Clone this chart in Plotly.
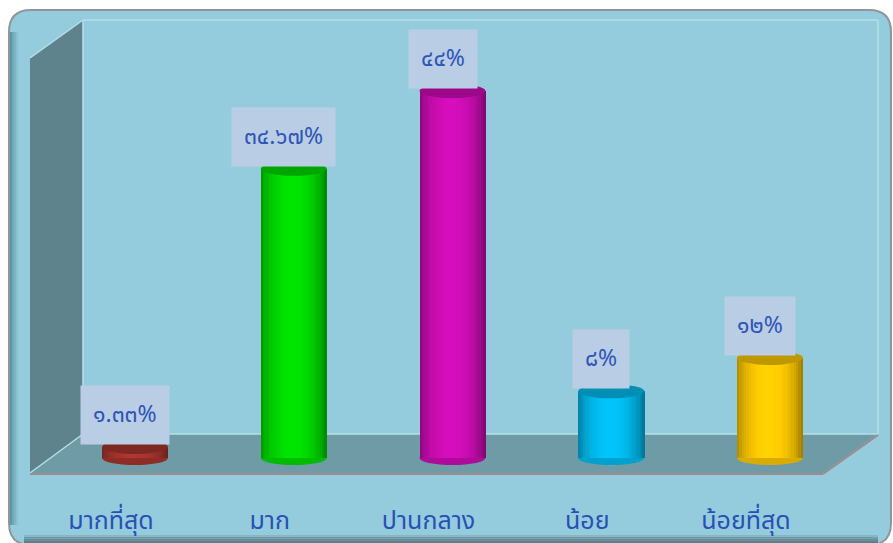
import numpy as np
import plotly.graph_objects as go

# ---------------- data ----------------
categories = ["มากที่สุด", "มาก", "ปานกลาง", "น้อย", "น้อยที่สุด"]
values = [1.33, 34.67, 44, 8, 12]
bar_colors = ["#A8362F", "#00DD00", "#CF0DB6", "#00BEF2", "#FFCB00"]

THAI_DIGITS = str.maketrans("0123456789", "๐๑๒๓๔๕๖๗๘๙")


def thai_pct(v):
    return f"{v:g}".translate(THAI_DIGITS) + "%"


labels = [thai_pct(v) for v in values]

# ---------------- geometry helpers ----------------
W, H = 893, 543
Y_MIN, Y_MAX = -4, 50
Y_ZERO_PX, Y_TOP_PX = 458.0, 41.0
PX_PER_UNIT = (Y_ZERO_PX - Y_TOP_PX) / Y_MAX
Y_BOTTOM_PX = Y_ZERO_PX - Y_MIN * PX_PER_UNIT
X_FIRST_PX, X_STEP_PX = 135.0, 158.75
LABEL_SHIFT_PX = 24
x_lo = -X_FIRST_PX / X_STEP_PX
x_hi = (W - X_FIRST_PX) / X_STEP_PX
s = LABEL_SHIFT_PX / X_STEP_PX
BAR_W = 66 / X_STEP_PX
ELL_H = 7 / PX_PER_UNIT


def px(x, y):
    return x / W, 1 - y / H


def poly(points):
    pts = [px(x, y) for x, y in points]
    return "M " + " L ".join(f"{a:.5f},{b:.5f}" for a, b in pts) + " Z"


def hex_rgb(h):
    h = h.lstrip("#")
    return np.array([int(h[i:i + 2], 16) for i in (0, 2, 4)], dtype=float)


def shade(h, f):
    c = np.clip(hex_rgb(h) * f, 0, 255).astype(int)
    return f"rgb({c[0]},{c[1]},{c[2]})"


fig = go.Figure()

# ---------------- cylinders as shaded strips ----------------
N_STRIPS = 28
xs = list(range(len(categories)))
for k in range(N_STRIPS):
    t = (k + 0.5) / N_STRIPS
    f = 0.64 + 0.40 * np.sin(np.pi * np.clip(t * 1.04, 0, 1)) ** 0.6
    fig.add_trace(go.Bar(
        x=xs, y=values,
        width=BAR_W / N_STRIPS * 1.15,
        offset=-BAR_W / 2 + k * BAR_W / N_STRIPS,
        marker=dict(color=[shade(c, f) for c in bar_colors], line=dict(width=0)),
        hoverinfo="skip", showlegend=False,
    ))

# invisible trace carrying the category axis
fig.add_trace(go.Scatter(x=xs, y=[0] * len(xs), xaxis="x2", mode="markers",
                         marker=dict(opacity=0), hoverinfo="skip", showlegend=False))

shapes = []
# frame
r = 22
x0, y0, x1, y1 = 9, 10, 891, 545
frame_path = (
    f"M {px(x0 + r, y0)[0]},{px(x0 + r, y0)[1]} "
    f"L {px(x1 - r, y0)[0]},{px(x1 - r, y0)[1]} "
    f"Q {px(x1, y0)[0]},{px(x1, y0)[1]} {px(x1, y0 + r)[0]},{px(x1, y0 + r)[1]} "
    f"L {px(x1, y1 - r)[0]},{px(x1, y1 - r)[1]} "
    f"Q {px(x1, y1)[0]},{px(x1, y1)[1]} {px(x1 - r, y1)[0]},{px(x1 - r, y1)[1]} "
    f"L {px(x0 + r, y1)[0]},{px(x0 + r, y1)[1]} "
    f"Q {px(x0, y1)[0]},{px(x0, y1)[1]} {px(x0, y1 - r)[0]},{px(x0, y1 - r)[1]} "
    f"L {px(x0, y0 + r)[0]},{px(x0, y0 + r)[1]} "
    f"Q {px(x0, y0)[0]},{px(x0, y0)[1]} {px(x0 + r, y0)[0]},{px(x0 + r, y0)[1]} Z"
)
shapes.append(dict(type="path", xref="paper", yref="paper", path=frame_path,
                   fillcolor="#94CCDD", line=dict(color="#8E9699", width=2), layer="below"))
# left frame shading
for i, col in enumerate(["#5F97A8", "#6FA8B8", "#7DB6C5", "#89C1D0"]):
    shapes.append(dict(type="path", xref="paper", yref="paper",
                       path=poly([(10 + 2 * i, 32), (12 + 2 * i, 32), (12 + 2 * i, 525), (10 + 2 * i, 525)]),
                       fillcolor=col, line=dict(width=0), layer="below"))
# bottom band
for i, col in enumerate(["#86B6C4", "#769FAC", "#6A8F9B", "#5E808B"]):
    shapes.append(dict(type="path", xref="paper", yref="paper",
                       path=poly([(24, 535 + 2 * i), (878, 535 + 2 * i), (878, 537 + 2 * i), (24, 537 + 2 * i)]),
                       fillcolor=col, line=dict(width=0), layer="below"))
# left wall
shapes.append(dict(type="path", xref="paper", yref="paper",
                   path=poly([(30, 58), (83, 20), (83, 434), (30, 473)]),
                   fillcolor="#5F838C", line=dict(width=0), layer="below"))
# floor
shapes.append(dict(type="path", xref="paper", yref="paper",
                   path=poly([(30, 473), (83, 434), (878, 434), (823, 473)]),
                   fillcolor="#6F9BA6", line=dict(width=0), layer="below"))
# light edges of walls
for seg in [[(30, 58), (83, 20)], [(83, 20), (878, 20)], [(83, 20), (83, 434)],
            [(878, 20), (878, 434)], [(30, 473), (83, 434)], [(83, 434), (878, 434)]]:
    (ax, ay), (bx, by) = seg
    pa, pb = px(ax, ay), px(bx, by)
    shapes.append(dict(type="line", xref="paper", yref="paper", x0=pa[0], y0=pa[1], x1=pb[0], y1=pb[1],
                       line=dict(color="#B4DFEA", width=1.5), layer="below"))
for seg in [[(30, 474), (823, 474)], [(823, 474), (878, 435)]]:
    (ax, ay), (bx, by) = seg
    pa, pb = px(ax, ay), px(bx, by)
    shapes.append(dict(type="line", xref="paper", yref="paper", x0=pa[0], y0=pa[1], x1=pb[0], y1=pb[1],
                       line=dict(color="#9C8C8C", width=2), layer="below"))

# bottom and top ellipses of cylinders (data coordinates)
for i, (v, c) in enumerate(zip(values, bar_colors)):
    shapes.append(dict(type="circle", xref="x", yref="y",
                       x0=i - BAR_W / 2, x1=i + BAR_W / 2, y0=-ELL_H, y1=ELL_H,
                       fillcolor=shade(c, 0.85), line=dict(width=0), layer="between"))
    shapes.append(dict(type="circle", xref="x", yref="y",
                       x0=i - BAR_W / 2, x1=i + BAR_W / 2, y0=v - ELL_H, y1=v + ELL_H,
                       fillcolor=shade(c, 0.75), line=dict(width=0), layer="above"))

annotations = []
for i, (v, lab) in enumerate(zip(values, labels)):
    annotations.append(dict(x=i, y=v, xref="x", yref="y", text=lab, showarrow=False,
                            yanchor="bottom", xanchor="center", xshift=-10, yshift=2,
                            bgcolor="#B9CDE5", borderpad=12,
                            font=dict(size=23, color="#2F55B8")))

fig.update_layout(
    width=W, height=H,
    margin=dict(l=0, r=0, t=0, b=0, autoexpand=False),
    paper_bgcolor="white", plot_bgcolor="rgba(0,0,0,0)",
    barmode="overlay", bargap=0,
    font=dict(family="Noto Sans Thai, Loma, Garuda, Tlwg Typo, sans-serif"),
    xaxis=dict(domain=[0, 1], range=[x_lo, x_hi], showticklabels=False, automargin=False,
               showgrid=False, zeroline=False, showline=False, ticks=""),
    xaxis2=dict(domain=[0, 1], range=[x_lo + s, x_hi + s], overlaying="x", anchor="y",
                side="bottom", tickvals=xs, ticktext=categories, automargin=False,
                showgrid=False, zeroline=False, showline=False, ticks="",
                ticklabelstandoff=12,
                tickfont=dict(size=25, color="#2A50B4")),
    yaxis=dict(domain=[(H - Y_BOTTOM_PX) / H, (H - Y_TOP_PX) / H], range=[Y_MIN, Y_MAX],
               visible=False, showgrid=False, zeroline=False, automargin=False),
    shapes=shapes, annotations=annotations,
)

fig.write_html("out.html")
